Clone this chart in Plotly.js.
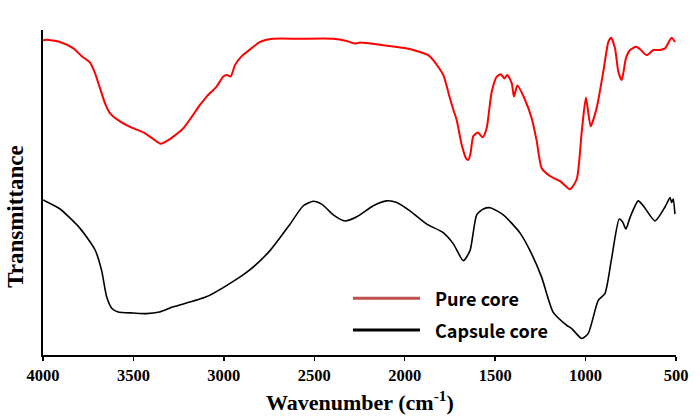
<!DOCTYPE html>
<html>
<head>
<meta charset="utf-8">
<script src="https://cdn.plot.ly/plotly-3.0.1.min.js"></script>
<style>html,body{margin:0;padding:0;background:#fff;}#chart{width:700px;height:419px;}</style>
</head>
<body>
<div id="chart"></div>
<script>
// Pure core (red) spectrum: wavenumber (cm-1) and relative transmittance
const pureWn = [4000,3980,3906,3832,3786,3740,3712,3685,3657,3630,3574,3519,3445,3399,3349,3307,3224,3132,3095,3040,3003,2984,2962,2938,2901,2855,2800,2727,2579,2395,2321,2275,2247,2118,2000,1934,1870,1842,1787,1750,1731,1713,1685,1660,1648,1636,1621,1596,1569,1547,1519,1491,1469,1449,1433,1408,1396,1377,1335,1298,1270,1243,1197,1141,1086,1049,1021,998,972,939,902,874,859,837,819,800,777,754,721,700,662,625,588,561,524,506];
const pureT  = [97.4,97.6,96.9,94.9,92.5,90.5,87.2,82.6,77.9,74.9,72.3,70.6,68.9,67.2,65.4,66.5,70.2,77.4,80.0,83.1,86.2,86.7,86.2,89.8,92.5,94.6,96.9,97.9,97.9,97.9,97.2,96.4,96.7,95.9,95.0,94.1,92.8,91.3,86.7,79.5,75.9,72.8,65.1,60.8,60.4,62.5,67.7,68.9,67.4,70.2,81.5,86.2,86.9,85.6,86.7,84.1,80.0,83.4,79.0,73.3,66.2,57.9,55.4,53.8,51.3,54.4,69.2,79.7,70.8,76.4,87.7,96.9,98.2,94.9,87.7,85.1,91.8,94.4,95.4,94.7,92.8,94.4,94.4,94.9,98.2,96.9];

// Capsule core (black) spectrum
const capWn = [4000,3989,3906,3795,3712,3676,3648,3620,3584,3500,3429,3356,3280,3097,2912,2855,2745,2634,2561,2506,2459,2395,2330,2265,2174,2100,2044,1971,1878,1787,1731,1676,1639,1602,1565,1528,1455,1363,1307,1243,1179,1104,1077,1021,985,930,893,858,814,795,777,754,709,681,616,561,533,524,515,506];
const capT  = [48.0,47.7,45.2,39.2,32.5,26.2,18.0,14.5,13.3,13.0,12.8,13.3,14.9,18.0,24.1,26.4,32.3,40.5,46.2,47.6,46.7,43.4,41.5,42.8,46.2,47.7,47.2,44.6,40.5,37.9,34.4,29.2,32.3,43.4,45.2,45.6,43.4,37.8,32.3,24.1,13.2,9.2,8.2,5.1,6.7,16.9,19.0,29.2,42.1,41.2,39.0,42.6,47.7,46.2,41.5,45.8,48.7,47.2,48.3,43.6];

const xTicks = [4000,3500,3000,2500,2000,1500,1000,500];
const seriesNames = ["Pure core","Capsule core"];

const serif = "Liberation Serif, Times New Roman, serif";
const legendFont = "Noto Sans CJK KR, Noto Sans, sans-serif";
const traces = [
  {x: pureWn, y: pureT, type: "scatter", mode: "lines", name: seriesNames[0],
   line: {color: "#ff0000", width: 2, shape: "spline", smoothing: 0.6}, showlegend: false},
  {x: capWn, y: capT, type: "scatter", mode: "lines", name: seriesNames[1],
   line: {color: "#000000", width: 1.6, shape: "spline", smoothing: 0.6}, showlegend: false}
];

const layout = {
  width: 700, height: 419,
  margin: {l: 43, r: 24, t: 30, b: 64},
  paper_bgcolor: "#ffffff", plot_bgcolor: "#ffffff",
  showlegend: false,
  xaxis: {
    range: [4000, 500], tickvals: xTicks, ticktext: xTicks.map(String),
    showgrid: false, zeroline: false, showline: true, linecolor: "#000", linewidth: 2,
    ticks: "outside", ticklen: 4, tickwidth: 1.5, tickcolor: "#000",
    tickfont: {family: serif, size: 16.5, color: "#000", weight: "bold"}
  },
  yaxis: {
    range: [0, 100.6], showticklabels: false, ticks: "", showgrid: false, zeroline: false,
    showline: true, linecolor: "#000", linewidth: 2
  },
  annotations: [
    {text: "<b>Wavenumber (cm<sup>-1</sup>)</b>", xref: "paper", yref: "paper",
     x: 0.5, y: -0.14, xanchor: "center", yanchor: "middle", showarrow: false,
     font: {family: serif, size: 22, color: "#000"}},
    {text: "<b>Transmittance</b>", xref: "paper", yref: "paper",
     x: -0.0427, y: 0.428, xanchor: "center", yanchor: "middle", textangle: -90, showarrow: false,
     font: {family: serif, size: 23, color: "#000"}},
    {text: seriesNames[0], xref: "paper", yref: "paper", x: 0.616, y: 0.175,
     xanchor: "left", yanchor: "middle", showarrow: false,
     font: {family: legendFont, size: 18, color: "#000", weight: 600}},
    {text: seriesNames[1], xref: "paper", yref: "paper", x: 0.616, y: 0.077,
     xanchor: "left", yanchor: "middle", showarrow: false,
     font: {family: legendFont, size: 18, color: "#000", weight: 600}}
  ],
  shapes: [
    {type: "line", xref: "paper", yref: "paper", x0: 0.4897, x1: 0.5956, y0: 0.175, y1: 0.175,
     line: {color: "#c0504d", width: 3}},
    {type: "line", xref: "paper", yref: "paper", x0: 0.4897, x1: 0.5956, y0: 0.077, y1: 0.077,
     line: {color: "#000000", width: 3}}
  ]
};

Plotly.newPlot("chart", traces, layout, {displayModeBar: false, staticPlot: true});
</script>
</body>
</html>
